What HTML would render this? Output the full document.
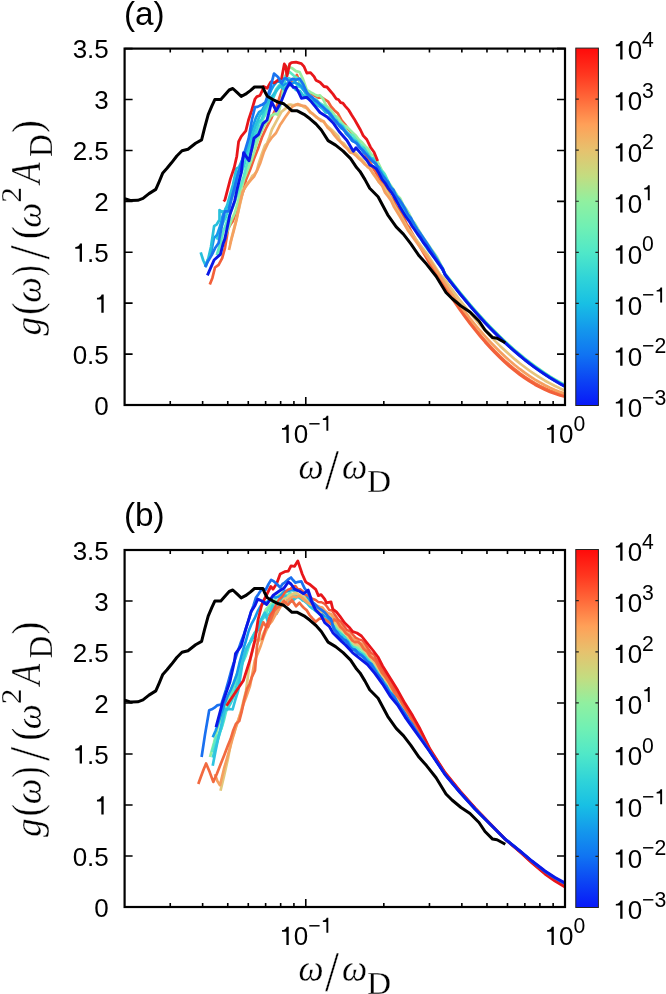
<!DOCTYPE html><html><head><meta charset="utf-8"><style>html,body{margin:0;padding:0;background:#fff;overflow:hidden;}svg{display:block;will-change:transform;}text{font-family:"Liberation Sans",sans-serif;}.m{font-family:"Liberation Serif",serif;}</style></head><body>
<svg width="666" height="994" viewBox="0 0 666 994">
<defs><linearGradient id="cb" x1="0" y1="0" x2="0" y2="1"><stop offset="0" stop-color="#ff0a0a"/><stop offset="0.075" stop-color="#ff3820"/><stop offset="0.143" stop-color="#ff6a3a"/><stop offset="0.214" stop-color="#ffa058"/><stop offset="0.286" stop-color="#e6c26e"/><stop offset="0.357" stop-color="#c4dc80"/><stop offset="0.429" stop-color="#90f0a0"/><stop offset="0.5" stop-color="#70f0b4"/><stop offset="0.571" stop-color="#50e8c8"/><stop offset="0.643" stop-color="#30d4d8"/><stop offset="0.714" stop-color="#18c0e4"/><stop offset="0.786" stop-color="#1498ec"/><stop offset="0.857" stop-color="#1074f2"/><stop offset="0.929" stop-color="#0c44f4"/><stop offset="1" stop-color="#0818f8"/></linearGradient></defs>
<clipPath id="clipa"><rect x="124.6" y="48.6" width="440.4" height="356.4"/></clipPath>
<g clip-path="url(#clipa)">
<polyline fill="none" stroke="#f4703e" stroke-width="2.6" stroke-linejoin="round" stroke-linecap="butt" points="430.0,262.6 440.0,276.9 445.0,285.7 450.0,293.6 455.0,301.1 460.0,308.4 465.0,315.3 470.0,322.0 475.0,328.4 480.0,334.5 485.0,340.4 490.0,345.9 495.0,351.2 500.0,356.2 505.0,360.9 510.0,365.3 515.0,369.4 520.0,373.3 525.0,376.8 530.0,380.1 535.0,383.1 540.0,385.8 545.0,388.2 550.0,390.4 555.0,392.2 560.0,393.8 565.0,395.1"/>
<polyline fill="none" stroke="#f2603a" stroke-width="2.7" stroke-linejoin="round" stroke-linecap="butt" points="209.8,284.4 212.4,277.9 215.0,267.5 218.6,264.8 222.2,258.2 225.0,247.8 228.2,228.5 230.6,224.3 233.0,220.9 237.0,209.3 240.2,200.4 243.5,190.5 245.9,180.1 250.0,170.1 254.0,158.8 258.0,148.8 262.0,137.2 266.0,128.5 268.9,122.8 271.7,117.5 276.0,108.2 279.2,98.5 282.5,88.6 284.8,88.4 287.0,86.6 291.0,83.3 293.9,79.6 296.9,74.9 300.0,83.1 302.5,86.6 305.0,89.4 308.5,93.8 312.0,93.9 315.0,95.8 318.0,97.7 321.7,97.5 325.4,99.9 328.2,101.7 331.0,106.5 334.5,110.4 338.0,113.6 341.6,120.3 345.2,124.6 348.4,129.2 351.5,132.6 354.6,136.1 357.8,139.4 360.1,145.0 362.3,149.7 364.9,153.3 367.4,158.6 370.0,161.8 372.7,167.6 375.3,171.4 378.0,176.4 381.3,181.6 384.7,185.7 388.0,191.7 390.7,197.1 393.3,200.0 396.0,205.9 398.7,209.4 401.3,213.6 404.0,217.9 406.7,224.3 409.3,227.5 412.0,233.0 430.0,264.2 440.0,278.5 445.0,287.3 450.0,295.2 455.0,302.7 460.0,310.0 465.0,316.9 470.0,323.6 475.0,330.0 480.0,336.1 485.0,342.0 490.0,347.5 495.0,352.8 500.0,357.8 505.0,362.5 510.0,366.9 515.0,371.0 520.0,374.9 525.0,378.4 530.0,381.7 535.0,384.7 540.0,387.4 545.0,389.8 550.0,392.0 555.0,393.8 560.0,395.4 565.0,396.7"/>
<polyline fill="none" stroke="#98eea0" stroke-width="2.7" stroke-linejoin="round" stroke-linecap="butt" points="217.0,255.0 219.5,248.7 222.0,244.3 225.1,237.0 228.2,228.9 231.4,220.3 234.7,213.1 237.9,202.2 241.1,189.0 244.3,178.4 248.0,169.1 251.3,160.6 253.7,153.6 256.0,145.9 258.5,138.2 261.0,132.8 263.5,126.6 266.0,122.8 268.5,120.2 271.0,115.7 275.0,113.7 278.0,114.8 281.6,100.6 284.0,85.1 287.9,67.0 292.0,68.1 296.0,71.1 299.6,72.0 303.0,79.1 306.8,90.0 310.5,92.2 312.8,93.4 315.0,94.6 317.5,95.8 320.0,95.3 323.0,98.9 326.0,105.3 329.0,108.4 332.0,111.4 335.0,115.7 338.0,117.7 341.0,122.2 344.0,125.3 347.0,127.0 350.0,129.9 353.0,133.0 356.0,135.8 359.0,139.9 362.0,142.3 365.0,145.9 368.0,148.7 371.1,154.2 374.1,156.0 376.4,159.8 378.6,163.7 381.7,170.2 384.9,174.5 388.0,181.5 391.1,186.0 394.1,190.6 397.0,195.1 400.0,198.2 403.0,204.4 406.0,208.8 409.0,213.5 412.0,220.0 415.0,223.7 418.0,229.0 421.0,234.0 424.0,238.6 427.2,243.1 430.5,248.0 433.8,252.5 437.0,257.0 443.0,269.0 445.0,273.3 450.0,279.6 455.0,286.0 460.0,292.3 465.0,298.4 470.0,304.4 475.0,310.1 480.0,315.7 485.0,321.2 490.0,326.4 495.0,331.5 500.0,336.4 505.0,341.2 510.0,345.8 515.0,350.2 520.0,354.4 525.0,358.5 530.0,362.4 535.0,366.1 540.0,369.6 545.0,373.0 550.0,376.3 555.0,379.3 560.0,382.2 565.0,384.9"/>
<polyline fill="none" stroke="#5ce8c6" stroke-width="2.7" stroke-linejoin="round" stroke-linecap="butt" points="216.8,255.2 221.0,240.9 223.5,230.8 226.0,224.2 228.5,217.2 231.0,211.3 233.5,205.8 236.0,198.0 238.5,191.2 241.0,184.8 243.5,177.2 246.0,167.8 248.5,160.3 251.0,152.0 253.5,145.0 256.0,138.6 258.5,130.9 261.0,124.1 263.5,117.9 266.0,113.3 268.5,106.6 271.0,101.1 273.5,96.3 276.0,89.3 278.5,86.2 281.0,83.3 283.5,80.0 286.0,74.9 289.7,71.9 294.0,75.8 298.0,78.7 302.0,85.2 306.0,90.7 308.5,94.5 311.0,96.9 313.5,99.2 316.0,99.0 319.0,102.6 322.0,104.5 325.5,106.4 329.0,112.1 332.0,115.7 335.0,116.8 338.0,122.4 341.0,123.9 344.0,127.3 347.0,132.0 350.0,134.3 353.0,135.5 356.0,139.5 359.0,143.2 362.0,146.0 365.0,149.0 368.0,153.0 371.0,157.8 374.0,159.1 377.3,165.3 380.7,169.7 384.0,173.1 387.0,179.2 390.0,185.4 393.0,190.3 396.0,194.2 399.0,202.0 402.0,206.3 405.0,211.7 408.0,214.6 411.0,220.0 414.0,224.6 417.0,231.0 420.0,235.2 423.0,239.5 426.0,244.4 429.0,249.3 432.0,253.4 434.8,257.1 437.5,261.0 440.2,265.0 443.0,268.9 443.0,269.9 445.0,274.1 450.0,280.1 455.0,286.5 460.0,292.8 465.0,298.9 470.0,304.9 475.0,310.6 480.0,316.2 485.0,321.7 490.0,326.9 495.0,332.0 500.0,336.9 505.0,341.7 510.0,346.3 515.0,350.7 520.0,354.9 525.0,359.0 530.0,362.9 535.0,366.6 540.0,370.1 545.0,373.5 550.0,376.8 555.0,379.8 560.0,382.7 565.0,385.4"/>
<polyline fill="none" stroke="#38d4d8" stroke-width="2.6" stroke-linejoin="round" stroke-linecap="butt" points="216.8,239.7 219.8,230.6 222.8,223.5 225.8,217.2 228.8,207.9 231.8,198.1 234.8,190.0 237.8,181.7 240.8,174.2 243.8,166.3 246.8,156.6 249.8,147.0 252.8,139.9 255.8,132.3 258.8,122.3 261.8,118.8 264.8,110.5 267.8,104.4 270.8,97.9 273.8,96.7 276.8,90.1 279.8,86.8 282.8,85.1 285.8,79.5 288.8,78.1 291.8,79.6 294.8,81.0 297.8,86.3 300.8,87.2 303.8,90.3 306.8,96.1 309.8,95.6 312.8,102.2 315.8,101.3 318.8,103.9 321.8,105.4 324.8,108.7 327.8,110.2 330.8,113.3 333.8,119.5 336.8,120.3 339.8,125.9 342.8,126.3 345.8,132.8 348.8,135.7 351.8,137.8 354.8,140.4 357.8,143.3 360.8,147.3 363.8,147.9 366.8,152.7 369.8,157.9 372.8,158.2 375.8,164.9 378.8,169.4 381.8,171.8 384.8,176.4 387.8,181.9 390.8,187.0 393.8,194.6 396.8,198.1 399.8,202.6 402.8,207.4 405.8,214.1 408.8,219.2 411.8,222.8 414.8,227.8 417.8,233.1 420.8,238.1 423.8,241.6 426.8,247.0 429.8,251.3 432.8,255.2 435.8,259.1 438.8,263.5 441.8,267.7 444.8,273.8 447.8,277.7 450.8,281.4 453.8,285.2 456.8,289.0 459.8,292.8 462.8,296.5 465.8,300.1 468.8,303.7 471.8,307.2 474.8,310.7 477.8,314.0 480.8,317.3 483.8,320.6 486.8,323.8 489.8,327.0 492.8,330.0 495.8,333.0 498.8,336.0 501.8,338.9 504.8,341.7 507.8,344.5 510.8,347.2 513.8,349.9 516.8,352.4 519.8,355.0 522.8,357.4 525.8,359.8 528.8,362.2 531.8,364.5 534.8,366.7 537.8,368.8 540.8,370.9 543.8,373.0 546.8,374.9 549.8,376.9 552.8,378.7 555.8,380.5 558.8,382.2 561.8,383.9 564.8,385.5 565.0,385.6"/>
<polyline fill="none" stroke="#1498ec" stroke-width="2.6" stroke-linejoin="round" stroke-linecap="butt" points="205.0,265.5 208.0,259.7 211.0,253.2 214.0,238.0 217.0,235.0 220.0,226.2 223.0,214.3 226.0,208.0 229.0,205.4 232.0,193.5 235.0,179.8 238.0,171.9 241.0,164.4 244.0,156.7 247.0,148.6 250.0,135.7 253.0,126.3 256.0,117.5 259.0,112.2 262.0,110.3 265.0,104.8 268.0,97.9 271.0,90.4 274.0,85.2 277.0,81.6 280.0,81.6 283.0,85.8 286.0,83.7 289.0,83.1 292.0,83.6 295.0,82.4 298.0,83.9 301.0,85.8 304.0,90.5 307.0,94.0 310.0,95.6 313.0,99.7 316.0,104.1 319.0,106.2 322.0,108.1 325.0,110.3 328.0,111.3 331.0,117.5 334.0,119.5 337.0,123.6 340.0,124.7 343.0,128.1 346.0,133.5 349.0,136.7 352.0,140.8 355.0,142.0 358.0,144.6 361.0,148.8 364.0,152.9 367.0,154.0 370.0,158.3 373.0,160.1 376.0,165.0 379.0,167.6 382.0,175.1 385.0,180.8 388.0,181.5 391.0,188.6 394.0,193.4 397.0,200.4 400.0,203.6 403.0,206.8 406.0,212.3 409.0,219.1 412.0,223.5 415.0,226.7 418.0,231.4 421.0,236.1 424.0,240.5 427.0,245.9 430.0,249.9 433.0,254.7 436.0,258.9 439.0,263.4 442.0,267.9 445.0,274.5 448.0,278.3 451.0,282.1 454.0,286.0 457.0,289.8 460.0,293.6 463.0,297.2 466.0,300.9 469.0,304.4 472.0,307.9 475.0,311.4 478.0,314.7 481.0,318.1 484.0,321.3 487.0,324.5 490.0,327.7 493.0,330.7 496.0,333.7 499.0,336.7 502.0,339.6 505.0,342.4 508.0,345.2 511.0,347.9 514.0,350.5 517.0,353.1 520.0,355.6 523.0,358.1 526.0,360.5 529.0,362.8 532.0,365.1 535.0,367.3 538.0,369.5 541.0,371.6 544.0,373.6 547.0,375.6 550.0,377.5 553.0,379.3 556.0,381.1 559.0,382.9 562.0,384.5 565.0,386.1"/>
<polyline fill="none" stroke="#28c0dc" stroke-width="2.7" stroke-linejoin="round" stroke-linecap="butt" points="200.7,252.4 203.3,260.5 206.0,266.2 208.5,257.6 211.0,246.8 214.1,226.2 216.8,224.3 219.5,219.7 219.5,210.0 222.2,212.1 225.0,210.6 227.2,205.1 229.5,196.9 232.9,185.1 236.3,168.7 239.0,167.1 243.1,157.9 247.0,149.5 249.5,142.7 252.0,136.3 256.0,124.3 260.0,115.2 262.5,112.2 265.0,107.2 267.5,102.8 270.0,99.0 274.4,93.3 277.1,89.7 279.8,85.9 284.0,89.4 288.0,84.8 292.0,85.4 296.0,90.0 300.0,91.0 302.5,94.5 305.0,96.6 307.5,98.3 310.0,98.5 313.0,102.7 316.0,104.2 319.0,105.1 322.0,107.9 325.5,112.3 329.0,112.8 332.0,118.3 335.0,120.5 338.0,124.0 341.0,128.0 344.0,129.7 347.0,133.0 350.0,136.2 353.0,140.2 356.0,141.3 359.0,146.1 362.0,149.1 365.0,152.3 368.0,155.3 371.0,158.7 374.0,161.2 377.3,166.4 380.7,171.2 384.0,178.2 387.0,182.0 390.0,187.0 393.0,192.0 396.0,199.5 399.0,204.6 402.0,209.0 405.0,212.9 408.0,217.9 411.0,222.9 414.0,228.2 417.0,232.5 420.0,237.9 423.1,242.1 426.2,247.2 429.3,251.5 432.4,255.2 435.0,258.8 437.7,262.6 440.4,266.2 443.0,269.9 443.0,270.4 445.0,274.6 450.0,280.6 455.0,287.0 460.0,293.3 465.0,299.4 470.0,305.4 475.0,311.1 480.0,316.7 485.0,322.2 490.0,327.4 495.0,332.5 500.0,337.4 505.0,342.2 510.0,346.8 515.0,351.2 520.0,355.4 525.0,359.5 530.0,363.4 535.0,367.1 540.0,370.6 545.0,374.0 550.0,377.3 555.0,380.3 560.0,383.2 565.0,385.9"/>
<polyline fill="none" stroke="#e6c47e" stroke-width="2.7" stroke-linejoin="round" stroke-linecap="butt" points="230.0,244.0 234.0,228.3 236.5,218.6 239.0,208.6 243.1,190.9 246.7,184.4 249.4,181.2 252.2,176.1 254.4,174.3 256.7,171.3 258.5,164.2 261.2,155.8 264.9,145.6 267.1,143.1 269.4,137.2 271.9,129.5 274.4,124.8 278.0,118.2 281.6,111.7 286.0,108.1 288.3,104.9 290.6,104.6 293.3,105.4 296.0,104.6 298.2,105.1 300.5,104.8 303.6,106.9 306.8,108.2 309.9,112.3 313.0,114.1 316.5,117.6 320.0,119.2 323.0,121.0 326.0,124.8 329.0,127.4 332.0,130.0 335.0,132.9 338.0,135.9 340.7,141.7 343.9,143.5 347.0,147.6 350.0,149.6 353.0,151.1 356.0,153.5 359.0,156.9 362.0,159.5 365.0,163.4 367.5,167.0 370.0,168.4 373.0,173.7 376.0,177.9 379.1,182.3 382.1,185.1 385.1,189.2 388.1,193.7 391.1,198.9 394.1,205.0 400.2,215.0 408.3,229.0 420.3,245.0 427.5,254.5 440.0,274.5 445.0,279.6 450.0,286.7 455.0,293.6 460.0,300.3 465.0,306.7 470.0,313.0 475.0,319.0 480.0,324.8 485.0,330.4 490.0,335.8 495.0,340.9 500.0,345.9 505.0,350.6 510.0,355.1 515.0,359.4 520.0,363.5 525.0,367.3 530.0,371.0 535.0,374.4 540.0,377.7 545.0,380.7 550.0,383.4 555.0,386.0 560.0,388.4 565.0,390.5"/>
<polyline fill="none" stroke="#f5a060" stroke-width="2.7" stroke-linejoin="round" stroke-linecap="butt" points="229.0,250.0 231.4,239.5 233.9,230.1 236.7,219.3 239.5,205.0 242.7,191.6 245.5,187.0 248.3,183.2 251.2,179.7 254.0,176.6 257.2,170.2 260.0,163.8 264.0,151.6 268.0,143.1 272.0,137.3 276.0,133.0 280.0,125.1 282.6,121.2 285.2,117.3 288.8,112.2 292.4,106.6 295.1,105.3 297.8,104.1 301.4,105.7 305.0,106.0 307.8,108.8 310.5,112.2 313.2,114.2 316.0,116.5 318.5,118.8 321.1,121.0 323.6,121.3 327.4,127.4 331.1,130.8 334.3,135.1 337.5,139.0 340.7,142.0 343.9,145.7 347.0,148.5 350.0,152.4 353.0,153.2 356.0,155.6 359.0,158.7 362.0,161.3 365.0,164.5 367.5,166.3 370.0,168.9 373.0,173.2 376.0,177.0 379.1,182.2 382.1,185.8 385.1,192.7 388.1,196.5 391.1,200.7 394.1,207.1 400.2,217.0 408.3,231.0 420.3,247.4 427.5,257.0 440.0,276.0 445.0,283.5 450.0,290.9 455.0,298.1 460.0,305.1 465.0,311.8 470.0,318.3 475.0,324.5 480.0,330.5 485.0,336.2 490.0,341.6 495.0,346.8 500.0,351.8 505.0,356.5 510.0,361.0 515.0,365.2 520.0,369.2 525.0,372.9 530.0,376.3 535.0,379.6 540.0,382.5 545.0,385.2 550.0,387.7 555.0,389.9 560.0,391.9 565.0,393.6"/>
<polyline fill="none" stroke="#e8161a" stroke-width="2.8" stroke-linejoin="round" stroke-linecap="butt" points="223.7,201.5 225.0,199.7 230.4,178.9 234.1,168.0 236.8,156.2 238.6,141.7 241.3,136.3 245.8,130.9 248.5,120.0 251.5,111.0 255.0,99.0 256.9,96.6 260.0,95.5 262.3,90.6 263.6,86.5 267.2,88.3 270.8,82.0 274.4,82.9 278.0,80.2 281.6,78.4 284.3,64.0 285.7,66.0 287.0,76.0 289.7,64.0 291.5,62.7 296.0,62.2 301.4,63.6 304.1,66.7 306.8,73.0 310.5,72.6 314.1,76.6 315.9,80.2 320.0,82.3 324.0,86.5 326.9,87.0 329.9,90.5 333.0,94.1 336.2,98.8 338.4,99.5 340.7,102.6 342.9,103.1 345.2,106.1 348.8,110.2 351.5,114.8 354.2,118.9 357.8,125.3 360.5,130.0 363.2,135.6 366.8,139.5 370.5,147.2 374.1,152.2 377.7,161.1"/>
<polyline fill="none" stroke="#1a74f0" stroke-width="2.7" stroke-linejoin="round" stroke-linecap="butt" points="205.0,267.0 208.3,260.7 211.7,255.1 215.0,248.3 218.6,243.1 221.3,228.8 224.1,214.4 225.0,211.4 228.6,211.3 232.0,196.6 234.3,188.3 236.7,178.9 241.0,164.7 245.0,150.7 248.6,138.7 252.0,119.5 255.0,107.2 257.5,106.9 260.0,105.6 262.7,104.4 265.4,102.2 267.7,95.5 270.0,89.1 274.0,73.6 278.0,77.0 281.6,83.4 283.9,78.8 286.1,78.1 288.8,81.5 292.4,78.9 296.0,79.8 299.6,78.6 303.2,84.2 307.0,92.7 309.5,95.9 312.0,97.0 314.7,99.9 317.3,101.7 320.0,104.4 323.5,107.6 327.0,110.9 330.5,114.2 334.0,119.1 337.0,122.5 340.0,126.5 343.5,129.7 347.0,133.6 350.0,137.1 353.0,141.1 356.5,143.1 360.0,147.9 362.7,150.2 365.3,153.4 368.0,156.4 370.7,159.5 373.3,162.0 376.0,163.6 379.0,170.4 382.1,174.7 385.1,178.6 388.1,183.2 390.7,187.5 393.4,189.8 396.0,195.7 399.0,199.1 402.0,203.4 405.0,208.7 408.0,214.5 411.0,218.2 414.0,223.9 417.0,229.0 420.0,233.0 423.0,237.4 426.0,242.0 429.0,246.6 432.0,251.3 434.8,255.6 437.5,260.0 440.2,264.4 443.0,268.9 443.0,269.9 445.0,274.5 450.0,281.1 455.0,287.5 460.0,293.8 465.0,299.9 470.0,305.9 475.0,311.6 480.0,317.2 485.0,322.7 490.0,327.9 495.0,333.0 500.0,337.9 505.0,342.7 510.0,347.3 515.0,351.7 520.0,355.9 525.0,360.0 530.0,363.9 535.0,367.6 540.0,371.1 545.0,374.5 550.0,377.8 555.0,380.8 560.0,383.7 565.0,386.4"/>
<polyline fill="none" stroke="#0a18e6" stroke-width="2.9" stroke-linejoin="round" stroke-linecap="butt" points="207.4,275.3 214.1,260.0 220.4,254.3 223.2,243.4 225.0,238.4 229.8,215.1 234.7,200.6 236.8,190.7 241.3,172.5 243.6,152.6 249.0,160.8 252.2,147.2 254.0,138.1 258.5,134.5 263.0,123.6 267.0,120.0 271.7,101.8 276.2,110.9 280.7,102.7 286.1,89.2 289.7,82.9 293.3,87.4 296.0,87.4 299.0,93.0 301.4,98.2 306.8,97.3 311.4,101.8 315.9,107.3 320.0,112.5 327.2,117.0 333.5,123.3 339.8,132.3 347.0,140.5 353.3,151.3 356.0,147.7 360.5,153.1 366.8,160.3 370.0,165.2 370.0,165.2 373.0,166.4 376.0,168.6 379.1,173.6 382.1,179.4 385.1,183.1 388.1,188.1 391.1,191.8 394.1,196.7 397.1,202.0 400.2,207.6 403.2,212.5 406.2,217.2 409.1,221.1 412.0,226.0 414.8,230.0 417.5,234.0 420.3,237.6 423.3,242.5 426.4,246.2 429.4,250.9 432.4,255.1 435.0,258.6 437.7,262.4 440.4,266.1 443.0,269.9 445.0,274.5 450.0,281.1 455.0,287.5 460.0,293.8 465.0,299.9 470.0,305.9 475.0,311.6 480.0,317.2 485.0,322.7 490.0,327.9 495.0,333.0 500.0,337.9 505.0,342.7 510.0,347.3 515.0,351.7 520.0,355.9 525.0,360.0 530.0,363.9 535.0,367.6 540.0,371.1 545.0,374.5 550.0,377.8 555.0,380.8 560.0,383.7 565.0,386.4"/>
<polyline fill="none" stroke="#000" stroke-width="3.0" stroke-linejoin="round" stroke-linecap="butt" points="124.8,198.8 131.0,200.6 137.8,200.3 143.0,198.4 149.0,193.6 155.8,189.4 159.2,181.6 162.8,172.9 167.0,168.3 171.5,162.8 176.8,156.0 182.0,150.8 188.0,149.3 195.6,143.3 201.6,139.9 204.6,127.9 208.2,114.6 211.8,106.2 214.8,99.6 220.8,99.6 225.0,94.8 229.2,90.0 232.8,88.5 237.0,92.4 241.2,96.4 245.5,94.2 250.3,90.6 254.5,87.0 262.9,87.0 264.5,91.0 267.3,96.3 272.5,99.3 278.5,102.3 283.8,103.8 287.5,106.8 292.0,110.8 297.3,110.8 304.0,114.3 310.0,118.8 316.0,124.0 321.3,130.0 328.1,140.6 335.6,145.1 343.1,151.1 350.6,158.6 356.6,167.6 360.0,171.4 365.0,179.6 369.7,188.3 378.1,196.7 387.7,214.8 396.2,226.9 403.4,234.1 410.7,243.7 419.1,255.8 426.5,264.1 436.1,276.2 446.0,292.5 452.0,298.5 461.0,306.0 470.0,312.0 479.0,321.0 485.0,330.0 492.6,337.6 497.0,338.3 505.3,342.8"/>
</g>
<rect x="124.6" y="48.6" width="440.4" height="356.4" fill="none" stroke="#000" stroke-width="2.2"/>
<text x="94.34" y="414.60" font-size="26">0</text>
<text x="72.66" y="363.69" font-size="26">0.5</text>
<text x="94.34" y="312.77" font-size="26"> </text><path d="M359 0L269 0L269 508L101 508L101 573C196 578 255 608 282 703L359 703Z" transform="translate(94.34,312.77) scale(0.02600,-0.02600)"/>
<text x="72.66" y="261.86" font-size="26"> .5</text><path d="M359 0L269 0L269 508L101 508L101 573C196 578 255 608 282 703L359 703Z" transform="translate(72.66,261.86) scale(0.02600,-0.02600)"/>
<text x="94.34" y="210.94" font-size="26">2</text>
<text x="72.66" y="160.03" font-size="26">2.5</text>
<text x="94.34" y="109.11" font-size="26">3</text>
<text x="72.66" y="58.20" font-size="26">3.5</text>
<path d="M124.6,405.00h8M565.0,405.00h-8M124.6,354.09h8M565.0,354.09h-8M124.6,303.17h8M565.0,303.17h-8M124.6,252.26h8M565.0,252.26h-8M124.6,201.34h8M565.0,201.34h-8M124.6,150.43h8M565.0,150.43h-8M124.6,99.51h8M565.0,99.51h-8M124.6,48.60h8M565.0,48.60h-8M170.25,405.0v-4M170.25,48.6v4M202.63,405.0v-4M202.63,48.6v4M227.75,405.0v-4M227.75,48.6v4M248.28,405.0v-4M248.28,48.6v4M265.63,405.0v-4M265.63,48.6v4M280.66,405.0v-4M280.66,48.6v4M293.92,405.0v-4M293.92,48.6v4M383.82,405.0v-4M383.82,48.6v4M429.46,405.0v-4M429.46,48.6v4M461.85,405.0v-4M461.85,48.6v4M486.97,405.0v-4M486.97,48.6v4M507.49,405.0v-4M507.49,48.6v4M524.85,405.0v-4M524.85,48.6v4M539.88,405.0v-4M539.88,48.6v4M553.14,405.0v-4M553.14,48.6v4M305.78,405.0v-8M305.78,48.6v8" stroke="#000" stroke-width="1.6" fill="none"/>
<text x="279.40" y="443.00" font-size="26"> 0</text><path d="M359 0L269 0L269 508L101 508L101 573C196 578 255 608 282 703L359 703Z" transform="translate(279.40,443.00) scale(0.02600,-0.02600)"/>
<text x="308.32" y="430.70" font-size="21.2">− </text><path d="M359 0L269 0L269 508L101 508L101 573C196 578 255 608 282 703L359 703Z" transform="translate(320.70,430.70) scale(0.02120,-0.02120)"/>
<text x="544.50" y="443.00" font-size="26"> 0</text><path d="M359 0L269 0L269 508L101 508L101 573C196 578 255 608 282 703L359 703Z" transform="translate(544.50,443.00) scale(0.02600,-0.02600)"/>
<text x="573.42" y="430.70" font-size="21.2">0</text>
<rect x="575.8" y="48.1" width="22.600000000000023" height="357.4" fill="url(#cb)" stroke="#222" stroke-width="1"/>
<text x="613.20" y="416.80" font-size="26"> 0</text><path d="M359 0L269 0L269 508L101 508L101 573C196 578 255 608 282 703L359 703Z" transform="translate(613.20,416.80) scale(0.02600,-0.02600)"/>
<text x="642.12" y="404.50" font-size="21.2">−3</text>
<text x="613.20" y="365.74" font-size="26"> 0</text><path d="M359 0L269 0L269 508L101 508L101 573C196 578 255 608 282 703L359 703Z" transform="translate(613.20,365.74) scale(0.02600,-0.02600)"/>
<text x="642.12" y="353.44" font-size="21.2">−2</text>
<text x="613.20" y="314.69" font-size="26"> 0</text><path d="M359 0L269 0L269 508L101 508L101 573C196 578 255 608 282 703L359 703Z" transform="translate(613.20,314.69) scale(0.02600,-0.02600)"/>
<text x="642.12" y="302.39" font-size="21.2">− </text><path d="M359 0L269 0L269 508L101 508L101 573C196 578 255 608 282 703L359 703Z" transform="translate(654.50,302.39) scale(0.02120,-0.02120)"/>
<text x="613.20" y="263.63" font-size="26"> 0</text><path d="M359 0L269 0L269 508L101 508L101 573C196 578 255 608 282 703L359 703Z" transform="translate(613.20,263.63) scale(0.02600,-0.02600)"/>
<text x="642.12" y="251.33" font-size="21.2">0</text>
<text x="613.20" y="212.57" font-size="26"> 0</text><path d="M359 0L269 0L269 508L101 508L101 573C196 578 255 608 282 703L359 703Z" transform="translate(613.20,212.57) scale(0.02600,-0.02600)"/>
<text x="642.12" y="200.27" font-size="21.2"> </text><path d="M359 0L269 0L269 508L101 508L101 573C196 578 255 608 282 703L359 703Z" transform="translate(642.12,200.27) scale(0.02120,-0.02120)"/>
<text x="613.20" y="161.51" font-size="26"> 0</text><path d="M359 0L269 0L269 508L101 508L101 573C196 578 255 608 282 703L359 703Z" transform="translate(613.20,161.51) scale(0.02600,-0.02600)"/>
<text x="642.12" y="149.21" font-size="21.2">2</text>
<text x="613.20" y="110.46" font-size="26"> 0</text><path d="M359 0L269 0L269 508L101 508L101 573C196 578 255 608 282 703L359 703Z" transform="translate(613.20,110.46) scale(0.02600,-0.02600)"/>
<text x="642.12" y="98.16" font-size="21.2">3</text>
<text x="613.20" y="59.40" font-size="26"> 0</text><path d="M359 0L269 0L269 508L101 508L101 573C196 578 255 608 282 703L359 703Z" transform="translate(613.20,59.40) scale(0.02600,-0.02600)"/>
<text x="642.12" y="47.10" font-size="21.2">4</text>
<path d="M575.8,354.44h3M598.4,354.44h-3M575.8,303.39h3M598.4,303.39h-3M575.8,252.33h3M598.4,252.33h-3M575.8,201.27h3M598.4,201.27h-3M575.8,150.21h3M598.4,150.21h-3M575.8,99.16h3M598.4,99.16h-3" stroke="#222" stroke-width="1.2" fill="none"/>
<text x="124" y="24.8" font-size="33.3">(a)</text>
<text class="m" font-style="italic" font-size="100" stroke="#fff" stroke-width="0.8" transform="matrix(0.3556,0.0000,0.0000,0.3812,298.3833,478.9687)">ω</text>
<text class="m" font-size="100" stroke="#fff" stroke-width="0.8" transform="matrix(0.5036,0.0000,0.0000,0.5652,325.0500,488.6848)">/</text>
<text class="m" font-style="italic" font-size="100" stroke="#fff" stroke-width="0.8" transform="matrix(0.3571,0.0000,0.0000,0.3812,342.0786,478.9687)">ω</text>
<text class="m" font-size="100" stroke="#fff" stroke-width="0.8" transform="matrix(0.3338,0.0000,0.0000,0.3185,366.9485,491.6500)">D</text>
<text class="m" font-style="italic" font-size="100" stroke="#fff" stroke-width="0.8" transform="matrix(0.0000,-0.3702,0.3721,0.0000,41.3368,335.5500)">g</text>
<text class="m" font-size="100" stroke="#fff" stroke-width="0.8" transform="matrix(0.0000,-0.3692,0.4278,0.0000,40.7667,314.7269)">(</text>
<text class="m" font-style="italic" font-size="100" stroke="#fff" stroke-width="0.8" transform="matrix(0.0000,-0.3619,0.3750,0.0000,40.9750,302.8357)">ω</text>
<text class="m" font-size="100" stroke="#fff" stroke-width="0.8" transform="matrix(0.0000,-0.3192,0.4278,0.0000,40.7667,276.1077)">)</text>
<text class="m" font-size="100" stroke="#fff" stroke-width="0.8" transform="matrix(0.0000,-0.5143,0.5742,0.0000,49.1758,259.4500)">/</text>
<text class="m" font-size="100" stroke="#fff" stroke-width="0.8" transform="matrix(0.0000,-0.3923,0.4278,0.0000,40.7667,239.3192)">(</text>
<text class="m" font-style="italic" font-size="100" stroke="#fff" stroke-width="0.8" transform="matrix(0.0000,-0.3540,0.3646,0.0000,40.9854,227.7119)">ω</text>
<text class="m" font-size="100" stroke="#fff" stroke-width="0.8" transform="matrix(0.0000,-0.3150,0.2954,0.0000,20.7500,202.7100)">2</text>
<text class="m" font-style="italic" font-size="100" stroke="#fff" stroke-width="0.8" transform="matrix(0.0000,-0.3470,0.4262,0.0000,40.4762,183.4152)">A</text>
<text class="m" font-size="100" stroke="#fff" stroke-width="0.8" transform="matrix(0.0000,-0.3138,0.3323,0.0000,52.1500,157.0915)">D</text>
<text class="m" font-size="100" stroke="#fff" stroke-width="0.8" transform="matrix(0.0000,-0.3885,0.4278,0.0000,40.7667,133.1154)">)</text>
<clipPath id="clipb"><rect x="124.6" y="550.0" width="440.4" height="357.0"/></clipPath>
<g clip-path="url(#clipb)">
<polyline fill="none" stroke="#98eea0" stroke-width="2.7" stroke-linejoin="round" stroke-linecap="butt" points="210.0,757.0 214.0,742.6 218.2,725.5 220.6,719.1 223.0,712.4 225.5,706.1 228.0,697.7 230.5,691.2 233.0,685.1 235.5,677.8 238.0,671.2 240.5,662.9 243.0,656.4 246.3,648.5 249.7,643.2 254.0,634.9 258.0,626.4 262.0,618.6 266.0,609.2 270.0,605.1 272.5,602.3 275.0,599.3 277.5,596.1 280.0,594.8 282.5,592.5 285.0,593.1 287.5,592.0 290.0,589.6 292.5,589.8 295.0,591.8 297.5,594.1 300.0,596.8 303.0,598.0 306.0,598.7 309.0,603.9 312.0,604.8 314.7,608.8 317.3,609.1 320.0,611.5 322.8,614.8 325.5,615.0 328.2,617.0 331.0,620.0 334.0,624.3 337.0,627.1 340.0,631.0 343.0,634.7 346.0,637.4 349.0,641.2 352.0,643.5 355.0,646.8 358.0,646.7 361.0,649.2 364.0,652.8 367.0,655.2 370.0,659.8 373.0,663.2 376.0,666.8 379.0,671.9 382.0,676.0 385.0,680.3 388.0,685.2 391.0,691.0 394.0,695.2 397.0,697.6 400.0,704.0 403.0,709.2 406.0,713.1 409.0,717.6 412.0,721.4 415.0,726.6 418.0,731.2 421.0,736.1 424.0,740.5 427.0,746.2 430.0,750.8 433.0,755.3 436.0,760.0 439.0,764.5 442.0,769.1 445.0,773.7 448.0,777.3 451.0,781.0 454.0,784.6 457.0,788.3 460.0,791.9 463.0,795.2 466.0,798.6 469.0,801.9 472.0,805.3 475.0,808.6 478.0,811.6 481.0,814.7 484.0,817.7 487.0,820.8 490.0,823.8 493.0,826.8 496.0,829.9 499.0,832.9 502.0,836.0 505.0,839.0 508.0,841.5 511.0,844.0 514.0,846.4 517.0,848.9 520.0,851.4 523.0,854.0 526.0,856.6 529.0,859.2 532.0,861.8 535.0,864.2 538.0,866.6 541.0,869.0 544.0,871.4 547.0,873.5 550.0,875.5 553.0,877.6 556.0,879.5 559.0,881.2 562.0,882.9 565.0,884.6"/>
<polyline fill="none" stroke="#5ce8c6" stroke-width="2.7" stroke-linejoin="round" stroke-linecap="butt" points="212.0,752.0 216.0,738.0 218.7,734.5 221.3,728.8 223.7,721.1 226.0,711.8 228.5,705.3 231.0,697.2 233.5,687.4 236.0,679.9 238.5,672.0 241.0,665.8 243.5,660.9 246.0,655.1 250.0,642.9 252.5,638.0 255.0,633.1 257.5,629.3 260.0,625.2 262.5,619.0 265.0,616.8 267.5,610.7 270.0,607.1 272.5,604.7 275.0,603.5 277.5,601.0 280.0,599.6 282.5,598.3 285.0,594.9 287.5,595.6 290.0,592.9 292.5,595.0 295.0,595.3 297.5,596.2 300.0,598.1 303.0,599.8 306.0,601.7 309.0,604.8 312.0,608.1 314.7,609.0 317.3,611.2 320.0,614.4 322.8,616.4 325.5,618.1 328.2,621.0 331.0,622.0 334.0,626.7 337.0,629.8 340.0,633.6 343.0,635.4 346.0,639.7 349.0,643.0 352.0,646.7 355.0,647.5 358.0,649.6 361.0,653.3 364.0,654.3 367.0,659.0 370.0,662.2 373.0,664.1 376.0,668.2 379.0,673.6 382.0,677.2 385.0,681.6 388.0,688.1 391.0,691.7 394.0,696.5 397.0,698.9 400.0,704.4 403.0,710.0 406.0,713.4 409.0,718.2 412.0,723.4 415.0,728.3 418.0,732.8 421.0,736.4 424.0,741.6 427.0,746.5 430.0,751.1 433.0,755.7 436.0,760.1 439.0,764.8 442.0,769.3 445.0,773.9 448.0,777.5 451.0,781.2 454.0,784.8 457.0,788.4 460.0,792.1 463.0,795.4 466.0,798.7 469.0,802.0 472.0,805.4 475.0,808.7 478.0,811.7 481.0,814.8 484.0,817.8 487.0,820.8 490.0,823.9 493.0,826.9 496.0,829.9 499.0,832.9 502.0,836.0 505.0,839.0 508.0,841.5 511.0,843.9 514.0,846.4 517.0,848.8 520.0,851.3 523.0,853.9 526.0,856.5 529.0,859.0 532.0,861.6 535.0,864.0 538.0,866.4 541.0,868.7 544.0,871.1 547.0,873.2 550.0,875.2 553.0,877.2 556.0,879.1 559.0,880.8 562.0,882.5 565.0,884.2"/>
<polyline fill="none" stroke="#38d4d8" stroke-width="2.6" stroke-linejoin="round" stroke-linecap="butt" points="212.7,757.7 215.7,746.5 218.7,737.1 221.7,727.0 224.7,711.7 227.7,708.7 230.7,703.4 233.7,696.3 236.7,685.0 239.7,673.7 242.7,661.7 245.7,652.0 248.7,645.5 251.7,638.0 254.7,632.5 257.7,630.3 260.7,621.8 263.7,616.4 266.7,616.3 269.7,613.0 272.7,605.6 275.7,608.8 278.7,604.8 281.7,600.2 284.7,596.6 287.7,599.2 290.7,596.9 293.7,598.5 296.7,596.2 299.7,597.5 302.7,600.5 305.7,601.1 308.7,603.1 311.7,607.6 314.7,610.3 317.7,612.4 320.7,614.6 323.7,617.5 326.7,618.1 329.7,620.5 332.7,624.8 335.7,630.8 338.7,632.0 341.7,634.7 344.7,637.3 347.7,640.6 350.7,645.2 353.7,648.7 356.7,651.7 359.7,652.1 362.7,654.7 365.7,657.5 368.7,660.9 371.7,665.8 374.7,668.3 377.7,671.4 380.7,675.2 383.7,681.9 386.7,686.7 389.7,692.1 392.7,693.7 395.7,698.6 398.7,704.7 401.7,708.7 404.7,714.3 407.7,716.2 410.7,723.5 413.7,725.3 416.7,730.9 419.7,734.4 422.7,740.4 425.7,744.9 428.7,749.9 431.7,754.2 434.7,758.6 437.7,762.9 440.7,767.5 443.7,772.0 446.7,776.1 449.7,779.7 452.7,783.3 455.7,786.9 458.7,790.6 461.7,794.0 464.7,797.3 467.7,800.7 470.7,804.0 473.7,807.3 476.7,810.5 479.7,813.5 482.7,816.5 485.7,819.5 488.7,822.6 491.7,825.6 494.7,828.6 497.7,831.6 500.7,834.7 503.7,837.7 506.7,840.4 509.7,842.8 512.7,845.3 515.7,847.7 518.7,850.2 521.7,852.7 524.7,855.3 527.7,857.8 530.7,860.4 533.7,862.8 536.7,865.2 539.7,867.6 542.7,869.9 545.7,872.2 548.7,874.2 551.7,876.2 554.7,878.1 557.7,879.9 560.7,881.6 563.7,883.3 565.0,884.0"/>
<polyline fill="none" stroke="#30c4e0" stroke-width="2.7" stroke-linejoin="round" stroke-linecap="butt" points="212.7,765.8 215.3,752.3 218.0,739.3 221.4,724.5 224.9,708.8 227.5,709.3 230.0,709.0 232.6,709.5 235.4,699.5 238.2,690.5 240.5,675.8 242.8,660.7 246.0,649.4 248.6,644.5 251.2,641.1 254.8,634.3 258.5,628.7 261.0,619.7 264.9,612.6 268.5,623.5 270.8,616.2 273.0,609.3 276.6,613.7 279.3,607.1 282.0,599.7 285.6,595.9 289.2,601.7 291.4,601.3 293.7,599.8 296.4,597.7 299.1,595.9 302.7,600.0 307.0,603.2 310.0,606.6 313.0,608.5 316.0,610.8 319.0,613.6 322.0,615.7 325.0,617.8 328.0,620.7 331.0,623.0 334.0,629.0 337.0,632.0 340.0,636.3 343.0,639.0 346.0,640.7 349.0,645.4 352.0,648.4 355.0,650.8 358.0,653.1 361.0,654.4 364.0,658.2 367.0,660.8 370.0,663.9 373.0,667.7 376.0,671.5 379.0,674.9 382.0,680.1 385.0,683.3 388.0,688.8 391.0,693.6 394.0,696.3 397.0,701.0 400.0,706.4 403.0,711.2 406.0,715.1 409.0,720.8 412.0,724.6 415.0,728.5 418.0,733.4 421.0,737.8 424.0,742.3 427.0,746.7 430.0,751.7 433.0,756.0 436.0,760.5 439.0,765.0 442.0,769.6 445.0,774.1 448.0,777.7 451.0,781.3 454.0,785.0 457.0,788.6 460.0,792.2 463.0,795.5 466.0,798.8 469.0,802.2 472.0,805.5 475.0,808.8 478.0,811.8 481.0,814.8 484.0,817.9 487.0,820.9 490.0,823.9 493.0,826.9 496.0,829.9 499.0,833.0 502.0,836.0 505.0,839.0 508.0,841.4 511.0,843.9 514.0,846.3 517.0,848.8 520.0,851.2 523.0,853.8 526.0,856.3 529.0,858.9 532.0,861.4 535.0,863.8 538.0,866.1 541.0,868.5 544.0,870.8 547.0,872.9 550.0,874.9 553.0,876.9 556.0,878.8 559.0,880.4 562.0,882.1 565.0,883.8"/>
<polyline fill="none" stroke="#1498ec" stroke-width="2.6" stroke-linejoin="round" stroke-linecap="butt" points="212.7,737.3 215.7,730.5 218.7,721.7 221.7,712.6 224.7,703.6 227.7,696.0 230.7,689.7 233.7,682.7 236.7,674.7 239.7,662.1 242.7,651.2 245.7,641.5 248.7,631.0 251.7,623.6 254.7,618.2 257.7,611.2 260.7,606.0 263.7,603.2 266.7,602.0 269.7,600.6 272.7,597.0 275.7,597.6 278.7,596.7 281.7,594.5 284.7,590.9 287.7,591.1 290.7,590.3 293.7,590.0 296.7,590.7 299.7,590.4 302.7,592.7 305.7,594.9 308.7,598.8 311.7,603.6 314.7,608.0 317.7,610.0 320.7,612.3 323.7,615.5 326.7,615.5 329.7,620.5 332.7,625.0 335.7,631.1 338.7,635.9 341.7,637.0 344.7,641.8 347.7,641.9 350.7,647.8 353.7,649.8 356.7,651.0 359.7,654.4 362.7,656.4 365.7,659.6 368.7,663.4 371.7,663.9 374.7,669.5 377.7,675.1 380.7,676.6 383.7,684.1 386.7,686.2 389.7,692.7 392.7,694.1 395.7,699.2 398.7,703.9 401.7,707.3 404.7,714.0 407.7,718.1 410.7,723.2 413.7,726.9 416.7,731.6 419.7,736.0 422.7,740.0 425.7,745.4 428.7,749.1 431.7,754.4 434.7,758.8 437.7,763.1 440.7,767.6 443.7,772.2 446.7,776.2 449.7,779.8 452.7,783.4 455.7,787.0 458.7,790.6 461.7,794.1 464.7,797.4 467.7,800.7 470.7,804.1 473.7,807.4 476.7,810.5 479.7,813.5 482.7,816.6 485.7,819.6 488.7,822.6 491.7,825.6 494.7,828.6 497.7,831.7 500.7,834.7 503.7,837.7 506.7,840.4 509.7,842.8 512.7,845.3 515.7,847.7 518.7,850.1 521.7,852.6 524.7,855.2 527.7,857.7 530.7,860.3 533.7,862.7 536.7,865.1 539.7,867.4 542.7,869.8 545.7,872.0 548.7,874.0 551.7,876.0 554.7,877.9 557.7,879.7 560.7,881.4 563.7,883.0 565.0,883.8"/>
<polyline fill="none" stroke="#e2c87c" stroke-width="2.7" stroke-linejoin="round" stroke-linecap="butt" points="220.5,790.7 224.0,776.1 228.0,758.4 231.5,739.8 233.8,734.0 236.0,725.6 238.5,719.4 241.0,711.2 243.5,700.8 246.0,690.8 250.0,660.8 252.4,651.0 254.8,640.1 257.9,640.6 260.9,639.9 263.4,633.3 266.0,628.0 269.0,623.9 272.0,618.9 275.0,613.5 278.0,609.2 281.0,603.4 284.0,599.1 287.0,597.9 290.0,595.4 293.0,593.8 296.0,592.8 299.0,594.8 302.0,596.0 304.7,597.9 307.3,601.5 310.0,604.3 312.7,605.2 315.3,606.6 318.0,608.8 320.7,612.3 323.3,611.5 326.0,614.5 328.5,615.7 331.0,617.0 334.0,621.9 337.0,624.2 340.0,628.8 343.0,630.5 346.0,634.0 349.0,637.8 352.0,640.3 355.0,644.3 358.0,644.7 361.0,646.7 364.0,649.4 367.0,653.8 370.0,657.0 373.0,661.1 376.0,665.0 379.0,669.8 382.0,675.1 385.0,679.3 388.0,683.0 391.0,688.3 394.0,691.8 397.0,695.6 400.0,701.6 403.0,707.3 406.0,711.0 409.0,715.8 412.0,720.4 415.0,725.7 418.0,730.2 421.0,735.2 424.0,740.5 427.0,745.3 430.0,750.7 433.0,755.3 436.0,759.6 439.0,764.3 442.0,768.9 445.0,773.5 448.0,777.2 451.0,780.8 454.0,784.5 457.0,788.1 460.0,791.8 463.0,795.1 466.0,798.5 469.0,801.8 472.0,805.2 475.0,808.5 478.0,811.5 481.0,814.6 484.0,817.6 487.0,820.7 490.0,823.8 493.0,826.8 496.0,829.9 499.0,832.9 502.0,836.0 505.0,839.0 508.0,841.5 511.0,844.0 514.0,846.5 517.0,849.0 520.0,851.5 523.0,854.1 526.0,856.8 529.0,859.4 532.0,862.0 535.0,864.4 538.0,866.8 541.0,869.3 544.0,871.7 547.0,873.8 550.0,875.9 553.0,877.9 556.0,879.8 559.0,881.5 562.0,883.3 565.0,885.0"/>
<polyline fill="none" stroke="#f5a060" stroke-width="2.7" stroke-linejoin="round" stroke-linecap="butt" points="214.9,774.1 217.4,781.1 220.0,785.2 224.0,768.7 227.0,758.4 230.0,747.9 233.0,736.9 236.0,727.2 238.5,719.7 241.0,712.2 243.5,704.0 246.0,697.6 250.0,686.0 252.4,673.7 254.8,660.4 257.9,653.0 260.9,645.2 263.4,637.6 266.0,630.8 269.0,624.7 272.0,621.1 275.0,615.5 278.0,611.2 281.0,605.8 284.0,604.4 287.0,601.0 290.0,598.6 293.0,596.5 296.0,597.3 299.0,595.9 302.0,598.1 305.0,600.6 308.0,603.0 311.0,603.6 314.0,604.5 317.0,605.8 320.0,607.1 322.4,607.6 324.7,610.5 327.9,613.0 331.0,614.0 334.0,617.6 337.0,621.2 340.0,623.7 343.0,628.4 346.0,631.9 349.0,634.2 352.0,637.9 355.0,639.2 358.0,641.3 361.0,643.5 364.0,645.4 367.0,650.0 370.0,654.5 373.0,658.0 376.0,661.5 379.0,665.1 382.0,671.3 385.0,675.8 388.0,680.3 391.0,686.0 394.0,688.6 397.0,694.6 400.0,697.9 403.0,704.5 406.0,709.3 409.0,713.4 412.0,718.9 415.0,723.4 418.0,728.6 421.0,734.0 424.0,738.8 427.0,744.1 430.0,749.8 433.0,754.7 436.0,759.2 439.0,763.8 442.0,768.5 445.0,773.1 448.0,776.8 451.0,780.5 454.0,784.1 457.0,787.8 460.0,791.5 463.0,794.8 466.0,798.2 469.0,801.6 472.0,805.0 475.0,808.3 478.0,811.4 481.0,814.5 484.0,817.5 487.0,820.6 490.0,823.7 493.0,826.7 496.0,829.8 499.0,832.9 502.0,835.9 505.0,839.0 508.0,841.5 511.0,844.1 514.0,846.6 517.0,849.1 520.0,851.7 523.0,854.3 526.0,857.0 529.0,859.7 532.0,862.4 535.0,864.8 538.0,867.3 541.0,869.8 544.0,872.2 547.0,874.4 550.0,876.5 553.0,878.5 556.0,880.5 559.0,882.2 562.0,884.0 565.0,885.7"/>
<polyline fill="none" stroke="#f26a40" stroke-width="2.7" stroke-linejoin="round" stroke-linecap="butt" points="198.3,784.0 200.9,776.7 203.5,769.8 206.1,763.5 209.7,772.1 213.3,781.9 216.9,773.8 220.5,764.5 224.2,755.2 228.0,745.3 230.7,738.8 233.3,730.2 236.0,723.8 239.3,721.0 241.7,711.7 244.0,700.5 247.0,688.9 249.4,684.3 251.8,677.3 255.0,670.4 257.0,646.1 260.0,631.2 263.3,622.3 265.6,625.8 268.0,626.9 271.0,619.3 274.0,611.4 277.0,607.9 280.0,605.9 284.0,600.9 288.0,604.8 292.0,600.0 296.0,606.3 299.5,602.8 301.8,605.8 304.0,607.9 306.7,610.3 309.4,614.8 312.5,618.4 315.7,621.7 319.3,618.7 322.0,618.7 324.7,619.4 327.9,621.5 331.0,624.0 334.0,619.5 337.0,621.2 340.0,626.4 343.0,629.2 346.0,633.5 349.0,635.5 352.0,640.4 355.0,642.1 358.0,641.8 361.0,644.5 364.0,649.2 367.0,651.3 370.0,656.2 373.0,658.5 376.0,661.6 379.0,667.3 382.0,672.9 385.0,676.5 388.0,680.9 391.0,686.2 394.0,692.0 397.0,695.9 400.0,699.3 403.0,704.8 406.0,709.6 409.0,714.1 412.0,720.0 415.0,723.8 418.0,729.3 421.0,734.2 424.0,739.3 427.0,745.1 430.0,750.0 433.0,754.9 436.0,759.3 439.0,764.1 442.0,768.7 445.0,773.3 448.0,777.0 451.0,780.6 454.0,784.3 457.0,787.9 460.0,791.6 463.0,795.0 466.0,798.3 469.0,801.7 472.0,805.0 475.0,808.4 478.0,811.5 481.0,814.5 484.0,817.6 487.0,820.6 490.0,823.7 493.0,826.8 496.0,829.8 499.0,832.9 502.0,835.9 505.0,839.0 508.0,841.5 511.0,844.0 514.0,846.6 517.0,849.1 520.0,851.6 523.0,854.2 526.0,856.9 529.0,859.5 532.0,862.2 535.0,864.6 538.0,867.1 541.0,869.5 544.0,872.0 547.0,874.2 550.0,876.2 553.0,878.2 556.0,880.2 559.0,881.9 562.0,883.7 565.0,885.4"/>
<polyline fill="none" stroke="#f4583a" stroke-width="2.4" stroke-linejoin="round" stroke-linecap="butt" points="262.0,640.0 266.0,627.3 270.0,615.4 273.0,611.1 276.0,604.7 279.0,599.5 282.0,596.9 285.0,592.3 288.0,589.7 290.5,588.9 293.0,586.3 295.5,586.0 298.0,589.2 300.5,589.3 303.0,591.4 305.5,594.7 308.0,595.6 310.5,597.5 313.0,599.0 315.7,600.0 318.4,602.1 321.5,602.2 324.7,603.9 326.9,606.5 329.2,610.0 332.0,610.5 335.0,615.0 338.0,619.3 341.0,621.9 344.0,626.1 347.0,629.9 350.0,631.4 353.0,634.8 356.0,637.8 359.0,639.3 362.0,640.3 365.0,643.6 368.0,648.5 371.0,652.7 374.0,654.7 377.0,660.5 380.0,665.4 383.0,670.2 386.0,674.5 389.0,678.6 392.0,683.1 395.0,689.9 398.0,692.9 401.0,699.3 404.0,703.6 407.0,709.6 410.0,713.9 413.0,718.1 416.0,723.1 419.0,729.0 422.0,733.8 425.0,739.8 428.0,745.8 431.0,751.3 434.0,755.8 437.0,760.4 440.0,765.1 443.0,769.8 446.0,774.1 449.0,777.8 452.0,781.5 455.0,785.1 458.0,788.8 461.0,792.4 464.0,795.8 467.0,799.2 470.0,802.5 473.0,805.9 476.0,809.2 479.0,812.3 482.0,815.4 485.0,818.5 488.0,821.5 491.0,824.6 494.0,827.7 497.0,830.8 500.0,833.9 503.0,836.9 506.0,839.9 509.0,842.4 512.0,845.0 515.0,847.5 518.0,850.1 521.0,852.7 524.0,855.4 527.0,858.1 530.0,860.8 533.0,863.5 536.0,866.0 539.0,868.5 542.0,871.0 545.0,873.5 548.0,875.5 551.0,877.6 554.0,879.7 557.0,881.6 560.0,883.3 563.0,885.1 565.0,886.3"/>
<polyline fill="none" stroke="#e8161a" stroke-width="2.8" stroke-linejoin="round" stroke-linecap="butt" points="226.5,705.7 235.0,693.0 243.4,680.5 250.0,660.0 255.0,640.0 258.0,620.0 262.0,604.0 266.0,596.0 270.8,586.5 273.0,589.2 276.6,583.8 280.2,573.9 284.7,571.7 288.3,571.2 291.0,565.8 294.6,566.3 297.8,560.9 302.2,574.0 305.8,582.1 310.3,584.8 315.7,589.3 318.4,595.6 321.1,594.7 324.7,599.2 326.5,602.8 331.0,601.9 332.8,609.1 336.4,611.8 340.0,616.4 344.5,622.7 349.1,627.2 352.7,631.7 357.0,633.0 361.5,636.0 367.5,643.5 373.5,651.0 378.0,657.0 382.6,666.0 390.1,678.1 397.6,690.1 405.1,703.6 412.6,715.6 420.1,729.0 430.0,749.0 445.0,772.5 460.0,791.0 475.0,808.0 490.0,823.5 505.0,839.0 520.0,852.0 532.0,863.0 545.0,874.0 555.0,881.0 565.0,887.0"/>
<polyline fill="none" stroke="#1a70f0" stroke-width="2.7" stroke-linejoin="round" stroke-linecap="butt" points="201.6,757.0 205.0,734.6 209.2,710.3 211.8,709.3 214.5,707.7 217.1,705.4 221.3,704.5 223.7,696.8 226.0,689.6 228.5,680.9 231.0,671.5 233.5,663.7 236.0,656.5 238.5,649.1 241.0,642.0 243.5,635.6 246.0,628.1 248.5,620.6 251.0,612.2 253.5,605.4 256.0,597.5 258.5,594.1 261.0,590.3 263.4,589.1 265.8,589.7 268.5,584.1 271.2,579.8 273.9,581.4 276.6,583.8 280.2,587.5 282.4,584.2 284.7,582.5 287.9,579.7 291.0,577.5 293.2,580.3 295.5,582.7 298.4,581.8 301.3,581.4 304.5,588.1 308.5,593.5 310.8,598.6 313.0,602.6 315.7,604.9 318.4,607.9 321.5,609.9 324.7,612.3 327.9,616.2 331.0,619.1 334.0,629.5 337.0,632.2 340.0,636.5 343.0,639.3 346.0,640.6 349.0,646.1 352.0,649.3 355.0,649.6 358.0,653.8 361.0,655.0 364.0,657.7 367.0,661.5 370.0,663.2 373.0,667.5 376.0,672.3 379.0,676.0 382.0,679.9 385.0,685.8 388.0,690.3 391.0,694.3 394.0,696.9 397.0,701.9 400.0,706.2 403.0,710.6 406.0,715.0 409.0,720.3 412.0,723.9 415.0,728.9 418.0,733.6 421.0,737.8 424.0,742.2 427.0,747.0 430.0,751.4 433.0,756.1 436.0,760.5 439.0,765.1 442.0,769.6 445.0,774.1 448.0,777.8 451.0,781.4 454.0,785.0 457.0,788.6 460.0,792.2 463.0,795.5 466.0,798.9 469.0,802.2 472.0,805.5 475.0,808.8 478.0,811.8 481.0,814.9 484.0,817.9 487.0,820.9 490.0,823.9 493.0,826.9 496.0,829.9 499.0,833.0 502.0,836.0 505.0,839.0 508.0,841.4 511.0,843.9 514.0,846.3 517.0,848.7 520.0,851.2 523.0,853.7 526.0,856.3 529.0,858.8 532.0,861.4 535.0,863.7 538.0,866.1 541.0,868.4 544.0,870.8 547.0,872.9 550.0,874.8 553.0,876.8 556.0,878.7 559.0,880.4 562.0,882.0 565.0,883.7"/>
<polyline fill="none" stroke="#0a18e6" stroke-width="2.9" stroke-linejoin="round" stroke-linecap="butt" points="216.0,727.2 222.3,703.6 229.7,682.6 234.4,661.5 235.5,653.6 241.2,645.8 245.5,630.0 251.2,611.4 255.0,605.5 257.7,599.1 262.0,601.0 266.7,604.5 273.0,595.5 279.3,591.0 283.8,588.3 288.3,582.0 291.0,584.0 294.6,589.2 299.1,591.0 303.6,593.7 308.2,590.1 310.9,598.2 311.2,601.0 315.7,610.0 321.1,615.5 324.7,622.7 329.2,626.3 332.8,632.6 337.3,637.1 341.8,641.6 345.5,645.0 352.5,652.6 360.0,658.6 367.5,664.6 375.0,673.6 382.6,684.1 390.1,696.1 397.6,705.1 405.1,717.1 412.6,727.6 420.0,738.0 430.0,752.0 445.0,774.5 460.0,792.5 475.0,809.0 490.0,824.0 505.0,839.0 520.0,851.0 532.0,861.0 545.0,871.0 555.0,877.5 565.0,883.0"/>
<polyline fill="none" stroke="#000" stroke-width="3.0" stroke-linejoin="round" stroke-linecap="butt" points="124.8,700.3 131.0,702.1 137.8,701.8 143.0,699.9 149.0,695.1 155.8,690.9 159.2,683.1 162.8,674.4 167.0,669.8 171.5,664.3 176.8,657.5 182.0,652.3 188.0,650.8 195.6,644.8 201.6,641.4 204.6,629.4 208.2,616.1 211.8,607.7 214.8,601.1 220.8,601.1 225.0,596.3 229.2,591.5 232.8,590.0 237.0,593.9 241.2,597.9 245.5,595.7 250.3,592.1 254.5,588.5 262.9,588.5 264.5,592.5 267.3,597.8 272.5,600.8 278.5,603.8 283.8,605.3 287.5,608.3 292.0,612.3 297.3,612.3 304.0,615.8 310.0,620.3 316.0,625.5 321.3,631.5 328.1,642.1 335.6,646.6 343.1,652.6 350.6,660.1 356.6,669.1 360.0,672.9 365.0,681.1 369.7,689.8 378.1,698.2 387.7,716.3 396.2,728.4 403.4,735.6 410.7,745.2 419.1,757.3 426.5,765.6 436.1,777.7 446.0,794.0 452.0,800.0 461.0,807.5 470.0,813.5 479.0,822.5 485.0,831.5 492.6,839.1 497.0,839.8 505.3,844.3"/>
</g>
<rect x="124.6" y="550.0" width="440.4" height="357.0" fill="none" stroke="#000" stroke-width="2.2"/>
<text x="94.34" y="916.60" font-size="26">0</text>
<text x="72.66" y="865.60" font-size="26">0.5</text>
<text x="94.34" y="814.60" font-size="26"> </text><path d="M359 0L269 0L269 508L101 508L101 573C196 578 255 608 282 703L359 703Z" transform="translate(94.34,814.60) scale(0.02600,-0.02600)"/>
<text x="72.66" y="763.60" font-size="26"> .5</text><path d="M359 0L269 0L269 508L101 508L101 573C196 578 255 608 282 703L359 703Z" transform="translate(72.66,763.60) scale(0.02600,-0.02600)"/>
<text x="94.34" y="712.60" font-size="26">2</text>
<text x="72.66" y="661.60" font-size="26">2.5</text>
<text x="94.34" y="610.60" font-size="26">3</text>
<text x="72.66" y="559.60" font-size="26">3.5</text>
<path d="M124.6,907.00h8M565.0,907.00h-8M124.6,856.00h8M565.0,856.00h-8M124.6,805.00h8M565.0,805.00h-8M124.6,754.00h8M565.0,754.00h-8M124.6,703.00h8M565.0,703.00h-8M124.6,652.00h8M565.0,652.00h-8M124.6,601.00h8M565.0,601.00h-8M124.6,550.00h8M565.0,550.00h-8M170.25,907.0v-4M170.25,550.0v4M202.63,907.0v-4M202.63,550.0v4M227.75,907.0v-4M227.75,550.0v4M248.28,907.0v-4M248.28,550.0v4M265.63,907.0v-4M265.63,550.0v4M280.66,907.0v-4M280.66,550.0v4M293.92,907.0v-4M293.92,550.0v4M383.82,907.0v-4M383.82,550.0v4M429.46,907.0v-4M429.46,550.0v4M461.85,907.0v-4M461.85,550.0v4M486.97,907.0v-4M486.97,550.0v4M507.49,907.0v-4M507.49,550.0v4M524.85,907.0v-4M524.85,550.0v4M539.88,907.0v-4M539.88,550.0v4M553.14,907.0v-4M553.14,550.0v4M305.78,907.0v-8M305.78,550.0v8" stroke="#000" stroke-width="1.6" fill="none"/>
<text x="279.40" y="945.00" font-size="26"> 0</text><path d="M359 0L269 0L269 508L101 508L101 573C196 578 255 608 282 703L359 703Z" transform="translate(279.40,945.00) scale(0.02600,-0.02600)"/>
<text x="308.32" y="932.70" font-size="21.2">− </text><path d="M359 0L269 0L269 508L101 508L101 573C196 578 255 608 282 703L359 703Z" transform="translate(320.70,932.70) scale(0.02120,-0.02120)"/>
<text x="544.50" y="945.00" font-size="26"> 0</text><path d="M359 0L269 0L269 508L101 508L101 573C196 578 255 608 282 703L359 703Z" transform="translate(544.50,945.00) scale(0.02600,-0.02600)"/>
<text x="573.42" y="932.70" font-size="21.2">0</text>
<rect x="575.8" y="549.5" width="22.600000000000023" height="358.0" fill="url(#cb)" stroke="#222" stroke-width="1"/>
<text x="613.20" y="918.80" font-size="26"> 0</text><path d="M359 0L269 0L269 508L101 508L101 573C196 578 255 608 282 703L359 703Z" transform="translate(613.20,918.80) scale(0.02600,-0.02600)"/>
<text x="642.12" y="906.50" font-size="21.2">−3</text>
<text x="613.20" y="867.66" font-size="26"> 0</text><path d="M359 0L269 0L269 508L101 508L101 573C196 578 255 608 282 703L359 703Z" transform="translate(613.20,867.66) scale(0.02600,-0.02600)"/>
<text x="642.12" y="855.36" font-size="21.2">−2</text>
<text x="613.20" y="816.51" font-size="26"> 0</text><path d="M359 0L269 0L269 508L101 508L101 573C196 578 255 608 282 703L359 703Z" transform="translate(613.20,816.51) scale(0.02600,-0.02600)"/>
<text x="642.12" y="804.21" font-size="21.2">− </text><path d="M359 0L269 0L269 508L101 508L101 573C196 578 255 608 282 703L359 703Z" transform="translate(654.50,804.21) scale(0.02120,-0.02120)"/>
<text x="613.20" y="765.37" font-size="26"> 0</text><path d="M359 0L269 0L269 508L101 508L101 573C196 578 255 608 282 703L359 703Z" transform="translate(613.20,765.37) scale(0.02600,-0.02600)"/>
<text x="642.12" y="753.07" font-size="21.2">0</text>
<text x="613.20" y="714.23" font-size="26"> 0</text><path d="M359 0L269 0L269 508L101 508L101 573C196 578 255 608 282 703L359 703Z" transform="translate(613.20,714.23) scale(0.02600,-0.02600)"/>
<text x="642.12" y="701.93" font-size="21.2"> </text><path d="M359 0L269 0L269 508L101 508L101 573C196 578 255 608 282 703L359 703Z" transform="translate(642.12,701.93) scale(0.02120,-0.02120)"/>
<text x="613.20" y="663.09" font-size="26"> 0</text><path d="M359 0L269 0L269 508L101 508L101 573C196 578 255 608 282 703L359 703Z" transform="translate(613.20,663.09) scale(0.02600,-0.02600)"/>
<text x="642.12" y="650.79" font-size="21.2">2</text>
<text x="613.20" y="611.94" font-size="26"> 0</text><path d="M359 0L269 0L269 508L101 508L101 573C196 578 255 608 282 703L359 703Z" transform="translate(613.20,611.94) scale(0.02600,-0.02600)"/>
<text x="642.12" y="599.64" font-size="21.2">3</text>
<text x="613.20" y="560.80" font-size="26"> 0</text><path d="M359 0L269 0L269 508L101 508L101 573C196 578 255 608 282 703L359 703Z" transform="translate(613.20,560.80) scale(0.02600,-0.02600)"/>
<text x="642.12" y="548.50" font-size="21.2">4</text>
<path d="M575.8,856.36h3M598.4,856.36h-3M575.8,805.21h3M598.4,805.21h-3M575.8,754.07h3M598.4,754.07h-3M575.8,702.93h3M598.4,702.93h-3M575.8,651.79h3M598.4,651.79h-3M575.8,600.64h3M598.4,600.64h-3" stroke="#222" stroke-width="1.2" fill="none"/>
<text x="124" y="526.0" font-size="33.3">(b)</text>
<text class="m" font-style="italic" font-size="100" stroke="#fff" stroke-width="0.8" transform="matrix(0.3556,0.0000,0.0000,0.3812,298.3833,980.9688)">ω</text>
<text class="m" font-size="100" stroke="#fff" stroke-width="0.8" transform="matrix(0.5036,0.0000,0.0000,0.5652,325.0500,990.6848)">/</text>
<text class="m" font-style="italic" font-size="100" stroke="#fff" stroke-width="0.8" transform="matrix(0.3571,0.0000,0.0000,0.3812,342.0786,980.9688)">ω</text>
<text class="m" font-size="100" stroke="#fff" stroke-width="0.8" transform="matrix(0.3338,0.0000,0.0000,0.3185,366.9485,993.6500)">D</text>
<text class="m" font-style="italic" font-size="100" stroke="#fff" stroke-width="0.8" transform="matrix(0.0000,-0.3702,0.3721,0.0000,41.3368,837.0500)">g</text>
<text class="m" font-size="100" stroke="#fff" stroke-width="0.8" transform="matrix(0.0000,-0.3692,0.4278,0.0000,40.7667,816.2269)">(</text>
<text class="m" font-style="italic" font-size="100" stroke="#fff" stroke-width="0.8" transform="matrix(0.0000,-0.3619,0.3750,0.0000,40.9750,804.3357)">ω</text>
<text class="m" font-size="100" stroke="#fff" stroke-width="0.8" transform="matrix(0.0000,-0.3192,0.4278,0.0000,40.7667,777.6077)">)</text>
<text class="m" font-size="100" stroke="#fff" stroke-width="0.8" transform="matrix(0.0000,-0.5143,0.5742,0.0000,49.1758,760.9500)">/</text>
<text class="m" font-size="100" stroke="#fff" stroke-width="0.8" transform="matrix(0.0000,-0.3923,0.4278,0.0000,40.7667,740.8192)">(</text>
<text class="m" font-style="italic" font-size="100" stroke="#fff" stroke-width="0.8" transform="matrix(0.0000,-0.3540,0.3646,0.0000,40.9854,729.2119)">ω</text>
<text class="m" font-size="100" stroke="#fff" stroke-width="0.8" transform="matrix(0.0000,-0.3150,0.2954,0.0000,20.7500,704.2100)">2</text>
<text class="m" font-style="italic" font-size="100" stroke="#fff" stroke-width="0.8" transform="matrix(0.0000,-0.3470,0.4262,0.0000,40.4762,684.9152)">A</text>
<text class="m" font-size="100" stroke="#fff" stroke-width="0.8" transform="matrix(0.0000,-0.3138,0.3323,0.0000,52.1500,658.5915)">D</text>
<text class="m" font-size="100" stroke="#fff" stroke-width="0.8" transform="matrix(0.0000,-0.3885,0.4278,0.0000,40.7667,634.6154)">)</text>
</svg></body></html>
